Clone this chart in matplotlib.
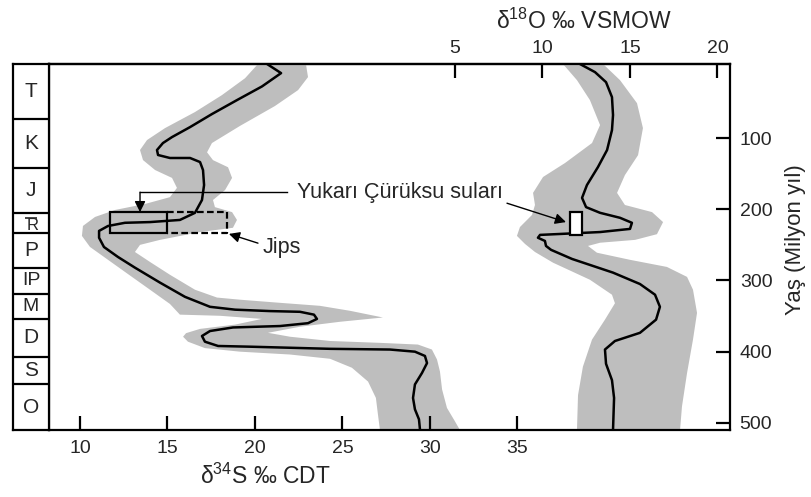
import matplotlib
matplotlib.use('Agg')
import matplotlib.pyplot as plt
from matplotlib.patches import Polygon, Rectangle
import numpy as np

plt.rcParams['font.family'] = ['Liberation Sans', 'DejaVu Sans']
plt.rcParams['mathtext.fontset'] = 'custom'
plt.rcParams['mathtext.rm'] = 'Liberation Sans'
plt.rcParams['mathtext.it'] = 'Liberation Sans:italic'

# --- data ---
# sulphur isotope curve: d34S (permil CDT) vs age (Ma)
s_d = [20.69, 21.49, 20.40, 18.97, 17.54, 16.29, 15.26, 14.74, 14.40, 14.46, 15.14, 16.29,
       16.86, 17.03, 17.09, 16.97, 16.57, 15.71, 14.00, 12.57, 11.60, 11.09, 11.09, 11.37,
       12.17, 13.14, 14.57, 16.00, 17.43, 18.86, 20.86, 22.57, 23.37, 23.54, 23.03, 21.43,
       18.74, 17.43, 16.97, 17.14, 17.89, 19.71, 24.29, 27.71, 29.14, 29.71, 29.83, 29.54,
       29.14, 29.03, 29.14, 29.37, 29.43]
s_age = [-4, 8.8, 27.5, 46.7, 66.3, 84.6, 98.6, 107, 116.8, 123.8, 128, 128,
         133.7, 145, 166, 187, 205, 215, 218, 219, 223.5, 230.4, 240, 253,
         267, 282, 303, 323, 337, 341, 343, 344, 348, 354, 360, 364,
         366, 371, 378, 386, 392, 393, 396, 397, 400, 406, 416, 430,
         446, 465, 481, 495, 510]

# envelope of the d34S band (outline)
s_band_d = [20.17, 19.43, 18.11, 16.57, 14.86, 13.83, 13.43, 13.60, 14.29, 15.26, 15.54, 15.14,
            13.71, 12.00, 10.86, 10.17, 10.11, 10.57, 11.43, 12.57, 14.00, 15.14, 15.71,
            18.00, 20.40, 18.86, 16.86, 16.06, 15.89, 16.17, 17.14, 19.14, 22.00, 24.29,
            25.54, 26.46, 26.91, 27.03, 27.14, 31.71,
            31.43, 30.97, 30.69, 30.57, 30.40, 30.11, 29.31, 27.14, 24.29, 22.00, 20.74,
            22.57, 24.86, 27.31, 25.43, 23.71, 21.43, 19.14, 17.83, 16.57, 15.14, 14.00,
            13.14, 13.43, 14.57, 16.86, 18.74, 18.97, 18.69, 17.71, 17.60, 18.29, 18.69,
            18.46, 17.60, 17.26, 17.54, 19.14, 21.14, 22.46, 23.03, 22.91]
s_band_age = [-4, 16, 39.7, 63.5, 86, 102.8, 116.8, 130.9, 144.9, 156, 170, 183,
              192.6, 201, 210.8, 223.4, 237.4, 252.9, 268, 288, 313, 333, 348,
              349.6, 354, 362, 368, 374, 379, 386, 395, 400, 404, 410,
              422.6, 442, 465, 489, 510, 510,
              498, 479, 453, 428, 411, 397, 390, 387.6, 385, 379, 373.5,
              365, 358, 352, 342.6, 335.6, 331.4, 327, 324, 313, 292, 274,
              260, 250, 243, 232, 226, 215, 204, 197, 187, 173, 156,
              141, 131, 120, 107, 83, 55, 32.7, 14.4, -4]

# oxygen isotope curve: d18O (permil VSMOW) vs age (Ma)
o_val = [12.14, 13.00, 13.63, 13.97, 14.03, 13.97, 13.69, 13.17, 12.54, 12.26, 12.49, 13.29,
         14.43, 15.11, 15.00, 13.29, 11.00, 9.86, 9.74, 10.14, 10.20, 10.49, 11.69, 14.03,
         15.57, 16.43, 16.71, 16.49, 15.57, 14.14, 13.57, 13.63, 13.97, 14.09, 14.03]
o_age = [-4, 7.4, 21.5, 42.5, 67.7, 88.8, 116.8, 140.7, 166, 184, 197, 205,
         212, 219, 227.6, 232, 234.7, 236, 240, 244.5, 251.5, 257, 269.8, 289,
         305, 320, 337, 355, 373.5, 385, 397, 417, 440, 465, 510]

o_band_val = [11.17, 11.97, 12.71, 13.29, 12.83, 11.29, 10.03, 9.46, 9.57, 9.40, 8.71, 8.54,
              9.00, 9.57, 10.60, 12.71, 13.97, 14.14, 13.57, 12.83, 12.31, 12.03, 11.97, 17.86,
              17.97, 18.26, 18.60, 18.83, 18.60, 18.26, 17.11, 15.00, 13.11, 12.60, 13.29,
              15.29, 16.54, 16.89, 16.26, 14.71, 14.26, 14.71, 15.46, 15.74, 15.40, 14.43, 13.46]
o_band_age = [-4, 18.7, 46.7, 81.8, 107, 135, 154.7, 177, 194, 208, 225, 237.4,
              248.7, 260, 275, 299, 320, 332, 355, 383, 421, 461, 510, 510,
              477, 430, 383, 345.5, 313, 295, 281, 271, 261, 251.5, 247,
              243, 235, 218, 204, 194, 177, 152, 124, 86, 51, 18.7, -4]

# geological periods (top/bottom ages as drawn)
periods = ['T', 'K', 'J', 'TR', 'P', 'IP', 'M', 'D', 'S', 'O']
period_bounds = [-4, 73.5, 142, 205, 233, 282, 319, 354, 407, 446, 510]

# Yukari Curuksu waters and gypsum boxes
water_s = (11.71, 14.97)
gypsum_s = (14.97, 18.40)
water_o = (11.57, 12.26)
box_age = (204, 234)
water_o_age = (204, 236)

s_ticks = [10, 15, 20, 25, 30, 35]
o_ticks = [5, 10, 15, 20]
age_ticks = [100, 200, 300, 400, 500]

OFF = 26.4286  # d34S position of d18O = 0 on the shared x scale
GRAY = '#bebebe'
TXT = '#262626'

W, H = 811, 497
fig = plt.figure(figsize=(W / 100, H / 100), dpi=100)
x0, x1, y0, y1, xc = 49, 730, 64, 430, 13
ax = fig.add_axes([x0 / W, 1 - y1 / H, (x1 - x0) / W, (y1 - y0) / H])
col = fig.add_axes([xc / W, 1 - y1 / H, (x0 - xc) / W, (y1 - y0) / H])

ax.set_xlim(8.229, 47.143)
ax.set_ylim(510, -4)

# bands
ax.add_patch(Polygon(np.column_stack([s_band_d, s_band_age]), closed=True,
                     fc=GRAY, ec='none', zorder=1))
ax.add_patch(Polygon(np.column_stack([np.array(o_band_val) + OFF, o_band_age]), closed=True,
                     fc=GRAY, ec='none', zorder=1))

# curves
ax.plot(s_d, s_age, color='black', lw=1.8, zorder=3, solid_joinstyle='round')
ax.plot(np.array(o_val) + OFF, o_age, color='black', lw=1.8, zorder=3, solid_joinstyle='round')

# boxes
ax.add_patch(Rectangle((water_s[0], box_age[0]), water_s[1] - water_s[0], box_age[1] - box_age[0],
                       fill=False, ec='black', lw=1.6, zorder=4))
ax.plot([gypsum_s[0], gypsum_s[1], gypsum_s[1], gypsum_s[0]],
        [box_age[0], box_age[0], box_age[1], box_age[1]],
        color='black', lw=1.6, ls=(0, (3, 1.5)), zorder=4)
ax.add_patch(Rectangle((water_o[0] + OFF, water_o_age[0]), water_o[1] - water_o[0],
                       water_o_age[1] - water_o_age[0], fc='white', ec='black', lw=1.6, zorder=4))

# annotations
ax.text(22.4, 176, 'Yukarı Çürüksu suları', fontsize=15.5, color=TXT, va='center', ha='left')
ax.plot([21.83, 13.43], [176, 176], color='black', lw=1.0, zorder=5)
ax.annotate('', xy=(13.43, box_age[0]), xytext=(13.43, 176),
            arrowprops=dict(arrowstyle='-|>', color='black', lw=1.0, mutation_scale=16,
                            shrinkA=0, shrinkB=0), zorder=5)
ax.annotate('', xy=(37.77, 218), xytext=(34.4, 191.5),
            arrowprops=dict(arrowstyle='-|>', color='black', lw=1.0, mutation_scale=16,
                            shrinkA=0, shrinkB=0), zorder=5)
ax.text(20.46, 254, 'Jips', fontsize=15.5, color=TXT, va='center', ha='left')
ax.annotate('', xy=(18.51, 234.6), xytext=(20.17, 247.6),
            arrowprops=dict(arrowstyle='-|>', color='black', lw=1.0, mutation_scale=16,
                            shrinkA=0, shrinkB=0), zorder=5)

# axes styling
for sp in ax.spines.values():
    sp.set_linewidth(1.6)
ax.set_xticks(s_ticks)
ax.tick_params(axis='x', direction='in', length=10, width=1.6, pad=7, labelsize=14,
               labelcolor=TXT)
ax.yaxis.tick_right()
ax.set_yticks(age_ticks)
ax.tick_params(axis='y', direction='in', length=10, width=1.6, pad=7, labelsize=14,
               labelcolor=TXT, right=True, left=False)

sec = ax.secondary_xaxis('top', functions=(lambda x: x - OFF, lambda x: x + OFF))
sec.set_xticks(o_ticks)
sec.tick_params(axis='x', direction='in', length=10, width=1.6, pad=5, labelsize=14,
                labelcolor=TXT)
sec.spines['top'].set_linewidth(1.6)

fig.text(265 / W, 1 - 476 / H, r'$\mathregular{\delta^{34}}$S ‰ CDT', fontsize=16.5,
         color=TXT, ha='center', va='center')
fig.text(584 / W, 1 - 21 / H, r'$\mathregular{\delta^{18}}$O ‰ VSMOW', fontsize=16.5,
         color=TXT, ha='center', va='center')
fig.text(796 / W, 1 - 240 / H, 'Yaş (Milyon yıl)', fontsize=16, color=TXT,
         ha='center', va='center', rotation=90)

# period column
col.set_xlim(0, 1)
col.set_ylim(510, -4)
col.set_xticks([])
col.set_yticks([])
for sp in col.spines.values():
    sp.set_linewidth(1.6)
col.hlines(period_bounds[1:-1], 0, 1, color='black', lw=1.6)
for name, a, b in zip(periods, period_bounds[:-1], period_bounds[1:]):
    mid = (a + b) / 2
    if name == 'TR':
        # Triassic sign: R with a T-bar on top
        col.text(0.55, mid + 4, 'R', fontsize=12, color=TXT, ha='center', va='center')
        col.plot([0.33, 0.68], [a + 7, a + 7], color=TXT, lw=1.2,
                 solid_capstyle='butt')
    else:
        fs = 14 if len(name) > 1 or name == 'M' else 15
        col.text(0.5, mid, name, fontsize=fs, color=TXT, ha='center', va='center')

fig.savefig('out.png', dpi=100)
plt.close(fig)
